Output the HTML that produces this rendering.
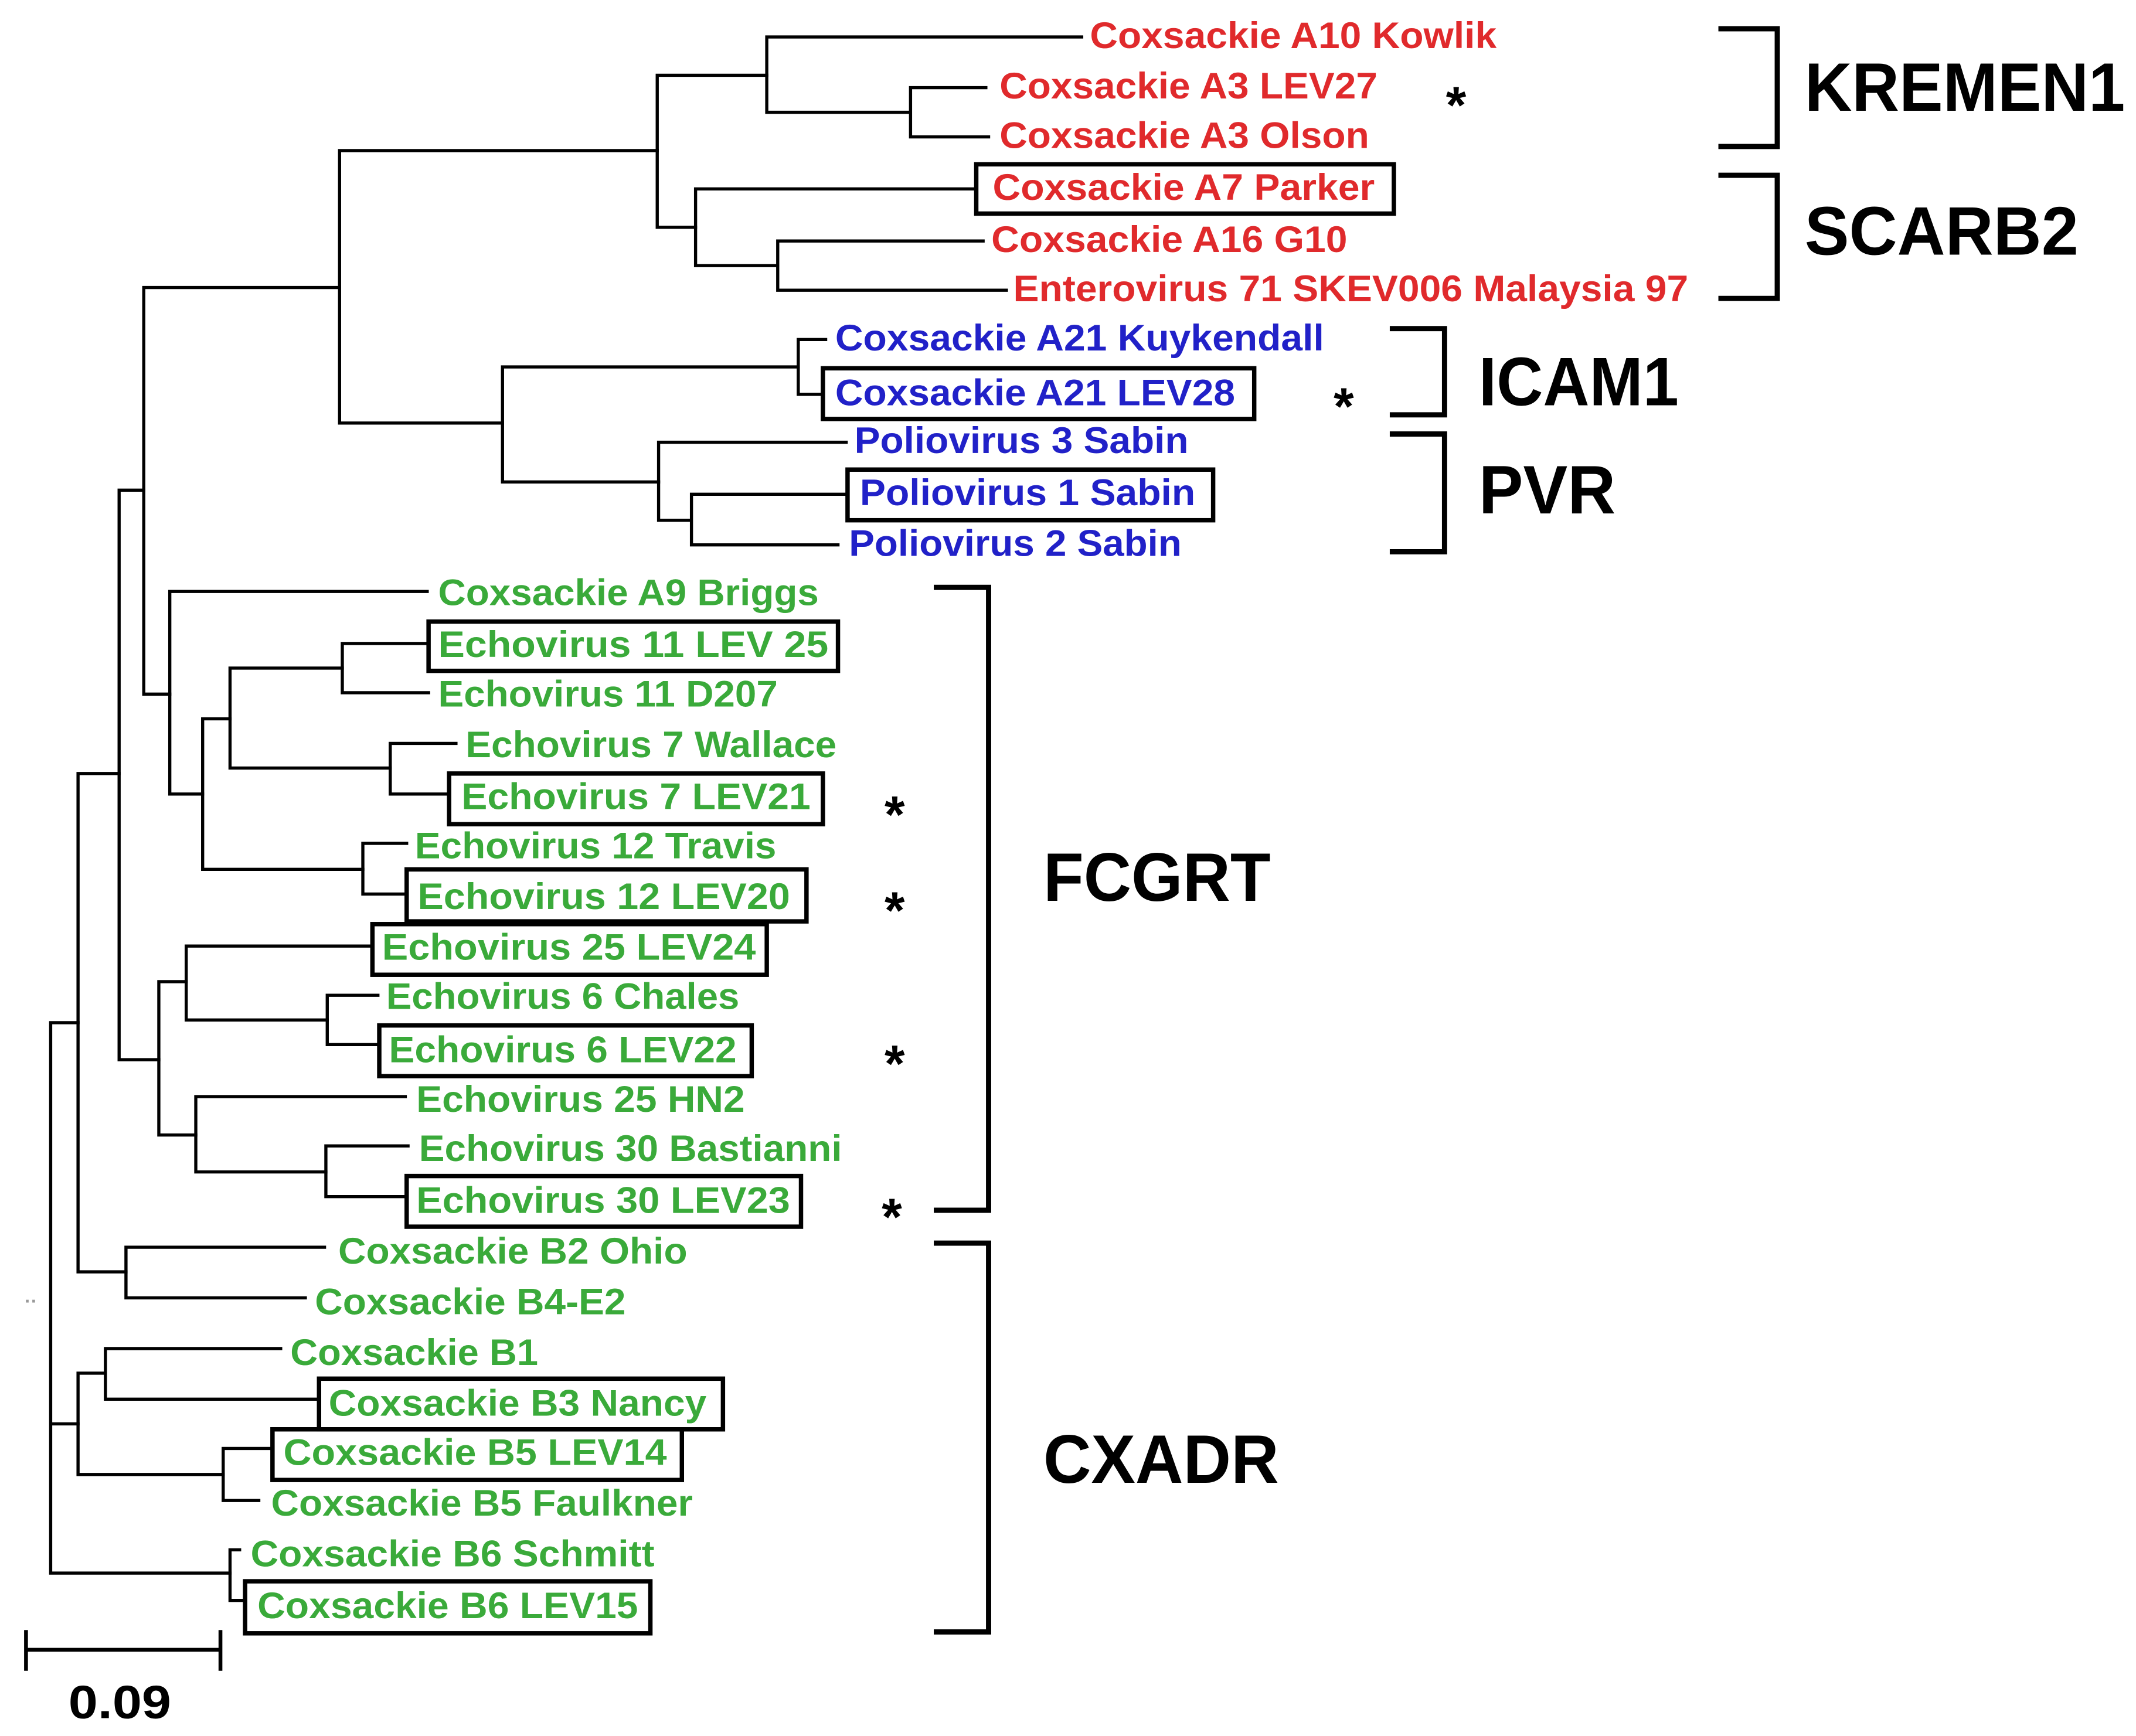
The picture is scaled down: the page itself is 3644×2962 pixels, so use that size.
<!DOCTYPE html>
<html><head><meta charset="utf-8"><style>
html,body{margin:0;padding:0;background:#fff;}
svg{display:block;}
text{font-family:"Liberation Sans",sans-serif;font-weight:bold;}
.r{fill:#e02a2c;font-size:27px;}
.b{fill:#2121c8;font-size:27px;}
.g{fill:#3aaa3a;font-size:27px;}
.k{fill:#000;}
</style></head><body>
<svg width="3644" height="2962" viewBox="0 0 1560 1268" preserveAspectRatio="none" xmlns="http://www.w3.org/2000/svg">
<g stroke="#000" stroke-width="2.3" fill="none" stroke-linecap="square">
<path d="M248 110V309M248 110H480M248 309H367"/>
<path d="M480 55V166M480 55H560M480 166H508"/>
<path d="M560 27V82M560 27H790M560 82H665M665 64V100M665 64H720M665 100H722"/>
<path d="M508 138V194M508 138H712M508 194H568M568 176V212M568 176H718M568 212H735"/>
<path d="M367 268V352M367 268H583M367 352H481"/>
<path d="M583 248V288M583 248H603M583 288H600"/>
<path d="M481 323V380M481 323H618M481 380H505M505 361V398M505 361H617M505 398H612"/>
<path d="M105 210V507M105 210H248M105 507H124"/>
<path d="M87 358V774M87 358H105M87 774H116"/>
<path d="M57 565V929M57 565H87M57 929H92"/>
<path d="M37 747V1149M37 747H57M37 1040H57M37 1149H168"/>
<path d="M124 432V580M124 432H312M124 580H148"/>
<path d="M148 525V635M148 525H168M148 635H265"/>
<path d="M168 488V561M168 488H250M168 561H285"/>
<path d="M250 470V506M250 470H312M250 506H313"/>
<path d="M285 543V580M285 543H333M285 580H327"/>
<path d="M265 616V653M265 616H297M265 653H296"/>
<path d="M116 717V829M116 717H136M116 829H143"/>
<path d="M136 691V745M136 691H271M136 745H239"/>
<path d="M239 727V763M239 727H276M239 763H276"/>
<path d="M143 801V856M143 801H296M143 856H238"/>
<path d="M238 837V874M238 837H298M238 874H296"/>
<path d="M92 911V948M92 911H237M92 948H223"/>
<path d="M57 1003V1077M57 1003H77M57 1077H163"/>
<path d="M77 985V1022M77 985H205M77 1022H232"/>
<path d="M163 1058V1096M163 1058H198M163 1096H189"/>
<path d="M168 1132V1169M168 1132H175M168 1169H178"/>
<path d="M19 1205H161M19 1192V1219M161 1192V1219" stroke-width="2.8"/>
</g>
<g stroke="#000" stroke-width="3.2" fill="none">
<rect x="713" y="120" width="305" height="36"/>
<rect x="601" y="269" width="315" height="37"/>
<rect x="619" y="343" width="267" height="37"/>
<rect x="313" y="454" width="299" height="36"/>
<rect x="328" y="565" width="273" height="37"/>
<rect x="297" y="635" width="292" height="38"/>
<rect x="272" y="675" width="288" height="37"/>
<rect x="277" y="749" width="272" height="37"/>
<rect x="297" y="859" width="288" height="37"/>
<rect x="233" y="1007" width="295" height="37"/>
<rect x="199" y="1044" width="299" height="37"/>
<rect x="179" y="1155" width="296" height="38"/>
</g>
<g stroke="#000" stroke-width="3.8" fill="none">
<path d="M1255 21H1298V107H1255"/>
<path d="M1255 128H1298V218H1255"/>
<path d="M1015 240H1055V303H1015"/>
<path d="M1015 317H1055V403H1015"/>
<path d="M682 429H722V884H682"/>
<path d="M682 908H722V1192H682"/>
</g>
<g>
<text class="r" x="796" y="35" textLength="297" lengthAdjust="spacingAndGlyphs">Coxsackie A10 Kowlik</text>
<text class="r" x="730" y="72" textLength="276" lengthAdjust="spacingAndGlyphs">Coxsackie A3 LEV27</text>
<text class="r" x="730" y="108" textLength="270" lengthAdjust="spacingAndGlyphs">Coxsackie A3 Olson</text>
<text class="r" x="725" y="146" textLength="279" lengthAdjust="spacingAndGlyphs">Coxsackie A7 Parker</text>
<text class="r" x="724" y="184" textLength="260" lengthAdjust="spacingAndGlyphs">Coxsackie A16 G10</text>
<text class="r" x="740" y="220" textLength="493" lengthAdjust="spacingAndGlyphs">Enterovirus 71 SKEV006 Malaysia 97</text>
<text class="b" x="610" y="256" textLength="357" lengthAdjust="spacingAndGlyphs">Coxsackie A21 Kuykendall</text>
<text class="b" x="610" y="296" textLength="292" lengthAdjust="spacingAndGlyphs">Coxsackie A21 LEV28</text>
<text class="b" x="624" y="331" textLength="244" lengthAdjust="spacingAndGlyphs">Poliovirus 3 Sabin</text>
<text class="b" x="628" y="369" textLength="245" lengthAdjust="spacingAndGlyphs">Poliovirus 1 Sabin</text>
<text class="b" x="620" y="406" textLength="243" lengthAdjust="spacingAndGlyphs">Poliovirus 2 Sabin</text>
<text class="g" x="320" y="442" textLength="278" lengthAdjust="spacingAndGlyphs">Coxsackie A9 Briggs</text>
<text class="g" x="320" y="480" textLength="285" lengthAdjust="spacingAndGlyphs">Echovirus 11 LEV 25</text>
<text class="g" x="320" y="516" textLength="248" lengthAdjust="spacingAndGlyphs">Echovirus 11 D207</text>
<text class="g" x="340" y="553" textLength="271" lengthAdjust="spacingAndGlyphs">Echovirus 7 Wallace</text>
<text class="g" x="337" y="591" textLength="255" lengthAdjust="spacingAndGlyphs">Echovirus 7 LEV21</text>
<text class="g" x="303" y="627" textLength="264" lengthAdjust="spacingAndGlyphs">Echovirus 12 Travis</text>
<text class="g" x="305" y="664" textLength="272" lengthAdjust="spacingAndGlyphs">Echovirus 12 LEV20</text>
<text class="g" x="279" y="701" textLength="273" lengthAdjust="spacingAndGlyphs">Echovirus 25 LEV24</text>
<text class="g" x="282" y="737" textLength="258" lengthAdjust="spacingAndGlyphs">Echovirus 6 Chales</text>
<text class="g" x="284" y="776" textLength="254" lengthAdjust="spacingAndGlyphs">Echovirus 6 LEV22</text>
<text class="g" x="304" y="812" textLength="240" lengthAdjust="spacingAndGlyphs">Echovirus 25 HN2</text>
<text class="g" x="306" y="848" textLength="309" lengthAdjust="spacingAndGlyphs">Echovirus 30 Bastianni</text>
<text class="g" x="304" y="886" textLength="273" lengthAdjust="spacingAndGlyphs">Echovirus 30 LEV23</text>
<text class="g" x="247" y="923" textLength="255" lengthAdjust="spacingAndGlyphs">Coxsackie B2 Ohio</text>
<text class="g" x="230" y="960" textLength="227" lengthAdjust="spacingAndGlyphs">Coxsackie B4-E2</text>
<text class="g" x="212" y="997" textLength="181" lengthAdjust="spacingAndGlyphs">Coxsackie B1</text>
<text class="g" x="240" y="1034" textLength="276" lengthAdjust="spacingAndGlyphs">Coxsackie B3 Nancy</text>
<text class="g" x="207" y="1070" textLength="280" lengthAdjust="spacingAndGlyphs">Coxsackie B5 LEV14</text>
<text class="g" x="198" y="1107" textLength="308" lengthAdjust="spacingAndGlyphs">Coxsackie B5 Faulkner</text>
<text class="g" x="183" y="1144" textLength="295" lengthAdjust="spacingAndGlyphs">Coxsackie B6 Schmitt</text>
<text class="g" x="188" y="1182" textLength="278" lengthAdjust="spacingAndGlyphs">Coxsackie B6 LEV15</text>
</g>
<g class="k">
<text x="1318" y="81" font-size="50" textLength="234" lengthAdjust="spacingAndGlyphs">KREMEN1</text>
<text x="1318" y="186" font-size="50" textLength="200" lengthAdjust="spacingAndGlyphs">SCARB2</text>
<text x="1080" y="296" font-size="50" textLength="146" lengthAdjust="spacingAndGlyphs">ICAM1</text>
<text x="1080" y="375" font-size="50" textLength="100" lengthAdjust="spacingAndGlyphs">PVR</text>
<text x="762" y="658" font-size="50" textLength="166" lengthAdjust="spacingAndGlyphs">FCGRT</text>
<text x="762" y="1083" font-size="50" textLength="172" lengthAdjust="spacingAndGlyphs">CXADR</text>
<text x="50" y="1255" font-size="34" textLength="75" lengthAdjust="spacingAndGlyphs">0.09</text>
<text x="1056" y="90" font-size="38">*</text>
<text x="974" y="310" font-size="38">*</text>
<text x="646" y="608" font-size="38">*</text>
<text x="646" y="678" font-size="38">*</text>
<text x="646" y="790" font-size="38">*</text>
<text x="644" y="902" font-size="38">*</text>
</g>
<text x="18" y="955" font-size="14" fill="#999">··</text>
</svg>
</body></html>
